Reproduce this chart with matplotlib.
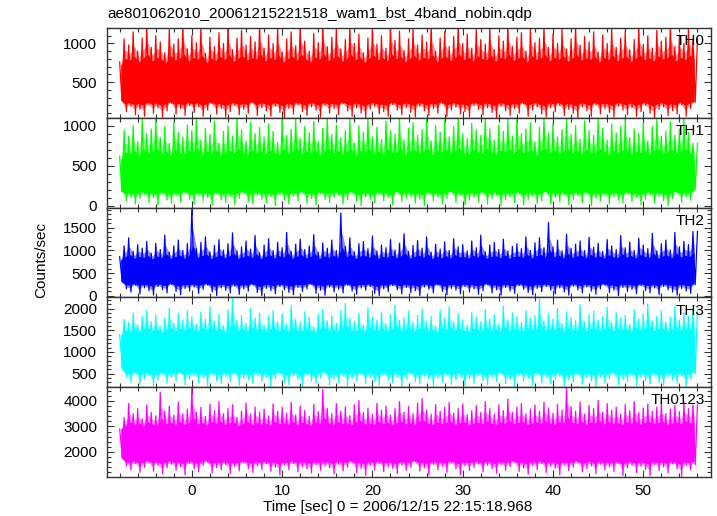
import numpy as np
import matplotlib
matplotlib.use("Agg")
import matplotlib.pyplot as plt
from matplotlib.ticker import MultipleLocator

plt.rcParams['font.family'] = ['Liberation Sans', 'DejaVu Sans']

title = "ae801062010_20061215221518_wam1_bst_4band_nobin.qdp"
xlabel = "Time [sec] 0 = 2006/12/15 22:15:18.968"
ylabel = "Counts/sec"
bands = ["TH0", "TH1", "TH2", "TH3", "TH0123"]
colors = ["#ff0000", "#00ff00", "#0000ff", "#00ffff", "#ff00ff"]

# light curve extremes read per 0.5 s window (upper / lower) starting at t = -8 s
t_start = -8.0
t_step = 0.5

th0_hi = [760, 1060, 980, 1150, 900, 1070, 1230, 950, 1100, 1020, 880, 1180, 990, 1060, 1250, 930,
          1100, 1010, 1210, 870, 1080, 960, 1140, 1000, 1230, 920, 1070, 1170, 980, 1090, 1020, 1250,
          940, 1110, 1000, 1200, 890, 1060, 1150, 970, 1240, 1030, 900, 1130, 1010, 1250, 960, 1080,
          1190, 930, 1050, 1230, 1000, 1120, 880, 1070, 1210, 990, 1100, 940, 1250, 1040, 1160, 910,
          1060, 1200, 980, 1110, 1020, 1240, 900, 1070, 1150, 960, 1090, 1230, 1000, 1120, 940, 1180,
          1050, 990, 1210, 920, 1100, 1030, 1250, 960, 1080, 1140, 900, 1190, 1010, 1070, 1230, 950,
          1120, 1000, 1180, 930, 1060, 1240, 980, 1090, 1020, 1150, 890, 1110, 1000, 1200, 950, 1070,
          1160, 920, 1050, 1220, 990, 1100, 940, 1170, 1030, 1080, 1250, 960, 1110, 1000, 1190, 1060]
th0_lo = [280, 120, 190, 80, 150, 60, 210, 100, 170, 50, 130, 230, 90, 160, 70, 200,
          110, 180, 60, 140, 220, 90, 160, 50, 120, 200, 80, 150, 100, 240, 70, 170,
          130, 60, 190, 110, 40, 160, 90, 210, 120, 70, 180, 140, 50, 200, 100, 160,
          80, 220, 130, 60, 170, 100, 40, 150, 190, 90, 120, 60, 210, 140, 80, 170,
          110, 50, 190, 130, 70, 160, 100, 230, 60, 140, 180, 90, 120, 50, 200, 150,
          80, 170, 110, 40, 190, 130, 70, 160, 100, 220, 60, 140, 180, 90, 50, 170,
          120, 200, 70, 150, 100, 40, 180, 130, 60, 210, 90, 160, 110, 50, 190, 140,
          80, 170, 60, 120, 200, 100, 40, 150, 180, 70, 130, 90, 210, 60, 160, 240]

th1_hi = [620, 940, 870, 1000, 800, 1080, 900, 960, 1100, 850, 990, 780, 1050, 920, 860, 1010,
          940, 1100, 820, 970, 890, 1060, 780, 930, 1000, 870, 1100, 950, 810, 1040, 900, 980,
          860, 1020, 930, 790, 1080, 880, 960, 1100, 840, 990, 910, 1050, 800, 970, 1100, 890,
          1010, 850, 940, 1080, 780, 1000, 920, 1100, 860, 980, 830, 1060, 940, 890, 1100, 820,
          970, 1040, 880, 950, 1100, 810, 1000, 920, 1070, 860, 990, 1100, 900, 840, 1030, 950,
          880, 1100, 960, 820, 1010, 930, 1080, 870, 1100, 900, 960, 1040, 800, 980, 1100, 910,
          1030, 860, 950, 1100, 890, 1000, 830, 1060, 940, 880, 1100, 970, 820, 1020, 910, 990,
          1080, 850, 960, 900, 1040, 810, 990, 1100, 870, 930, 1050, 880, 960, 1080, 920, 780]
th1_lo = [180, 60, 110, 20, 90, 140, 40, 100, 10, 150, 70, 30, 120, 50, 160, 80,
          20, 130, 60, 100, 0, 150, 70, 40, 110, 10, 90, 160, 50, 20, 130, 80,
          40, 110, 0, 140, 70, 20, 120, 60, 170, 30, 90, 10, 150, 80, 40, 100,
          130, 20, 70, 160, 50, 0, 110, 80, 30, 140, 60, 100, 10, 170, 50, 90,
          120, 30, 80, 0, 150, 60, 110, 20, 90, 170, 40, 130, 10, 70, 100, 50,
          160, 20, 90, 130, 0, 70, 110, 40, 150, 10, 80, 120, 30, 60, 170, 20,
          100, 50, 140, 10, 80, 120, 40, 160, 0, 90, 60, 130, 20, 110, 70, 30,
          150, 50, 100, 10, 80, 140, 30, 120, 60, 0, 90, 160, 40, 110, 70, 200]

th2_hi = [860, 1100, 1280, 980, 1130, 1050, 1200, 940, 1160, 1020, 1340, 960, 1100, 1230, 1000, 1150,
          1950, 1040, 1180, 1300, 970, 1110, 1240, 1010, 1150, 1390, 990, 1080, 1210, 1030, 1330, 950,
          1120, 1260, 1000, 1180, 1060, 1400, 980, 1140, 1250, 1020, 1100, 1350, 960, 1170, 1050, 1230,
          1000, 1830, 1090, 1280, 970, 1150, 1200, 1040, 1320, 990, 1120, 1060, 1240, 1010, 1160, 1370,
          980, 1110, 1220, 1050, 1300, 960, 1140, 1030, 1190, 1000, 1260, 1080, 1130, 990, 1210, 1060,
          1340, 970, 1120, 1180, 1020, 1250, 990, 1090, 1150, 1040, 1300, 1000, 1170, 1280, 1060, 1620,
          1080, 1230, 990, 1360, 1050, 1140, 1210, 1000, 1290, 1070, 1160, 980, 1240, 1100, 1020, 1330,
          1060, 1190, 1000, 1270, 1120, 1040, 1380, 990, 1150, 1230, 1010, 1400, 1080, 1200, 1130, 1420]
th2_lo = [380, 150, 80, 230, 40, 170, 110, 10, 200, 130, 60, 250, 90, 20, 160, 100,
          190, 50, 140, 230, 80, 0, 170, 120, 60, 210, 30, 150, 100, 240, 70, 0,
          160, 110, 40, 200, 130, 70, 20, 180, 90, 150, 250, 50, 120, 10, 190, 80,
          140, 60, 230, 100, 30, 170, 120, 200, 50, 0, 150, 90, 220, 130, 40, 180,
          70, 110, 0, 190, 140, 60, 230, 90, 20, 160, 120, 40, 200, 80, 150, 30,
          110, 240, 60, 130, 10, 180, 100, 50, 220, 140, 70, 20, 160, 90, 200, 120,
          40, 170, 80, 10, 210, 130, 60, 190, 100, 30, 150, 230, 70, 120, 0, 180,
          90, 140, 40, 220, 110, 60, 170, 20, 200, 130, 80, 10, 160, 100, 50, 240]

th3_hi = [1400, 1750, 1680, 1900, 1620, 1820, 1960, 1700, 1850, 1580, 1780, 2010, 1660, 1890, 1740, 1950,
          1810, 1640, 1920, 1760, 2050, 1700, 1870, 1600, 1980, 2240, 1720, 1840, 1660, 2000, 1780, 1900,
          1620, 1830, 1950, 1700, 1880, 1640, 2070, 1760, 1690, 1930, 1800, 1580, 1870, 1990, 1720, 1840,
          1660, 1960, 2120, 1780, 1700, 1890, 1620, 2020, 1810, 1740, 1920, 1650, 1860, 2080, 1730, 1800,
          1940, 1680, 1850, 1990, 1710, 1830, 1600, 1960, 1770, 2040, 1690, 1880, 1740, 1620, 1910, 1800,
          1700, 1980, 1760, 1860, 1640, 2060, 1730, 1900, 1810, 1680, 1950, 1780, 1840, 2220, 1700, 1870,
          1760, 2000, 1650, 1920, 1800, 1720, 2090, 1690, 1860, 1940, 1740, 1820, 2030, 1670, 1900, 1780,
          1850, 1640, 1970, 1760, 1880, 2110, 1710, 1830, 1950, 1690, 1800, 2050, 1740, 1910, 1820, 1980]
th3_lo = [800, 420, 300, 510, 250, 380, 460, 220, 350, 490, 280, 410, 330, 530, 240, 370,
          450, 290, 400, 210, 480, 340, 260, 430, 310, 500, 230, 390, 350, 270, 460, 320,
          420, 200, 380, 490, 300, 250, 440, 360, 210, 470, 330, 280, 400, 520, 240, 370,
          300, 450, 220, 390, 340, 480, 260, 410, 310, 230, 460, 350, 280, 420, 200, 380,
          490, 320, 260, 440, 370, 210, 400, 300, 470, 250, 350, 430, 220, 390, 280, 460,
          340, 240, 410, 310, 500, 270, 360, 200, 450, 330, 390, 230, 480, 290, 420, 260,
          370, 440, 210, 350, 300, 470, 250, 400, 330, 200, 430, 280, 380, 490, 240, 360,
          310, 450, 220, 400, 340, 260, 470, 300, 230, 420, 350, 280, 440, 210, 380, 500]

th0123_hi = [2900, 3350, 3900, 3500, 3700, 3300, 3850, 3550, 3420, 4340, 3600, 3800, 3450, 3950, 3500, 3680,
             4530, 3560, 3750, 3400, 3880, 3620, 3980, 3500, 3700, 3850, 3350, 3600, 3920, 3480, 3760, 3560,
             3680, 3420, 3890, 3600, 3750, 3520, 3950, 3450, 3800, 3620, 3400, 3860, 3580, 4450, 3700, 3500,
             3900, 3600, 3760, 3420, 3850, 4020, 3550, 3720, 3480, 3910, 3640, 3800, 3450, 3700, 3980, 3560,
             3780, 3500, 3920, 4100, 3650, 3480, 3860, 3600, 3750, 3950, 3520, 3700, 3880, 3460, 3620, 3820,
             3550, 3980, 3700, 3480, 3850, 3620, 4080, 3560, 3760, 3900, 3500, 3680, 3840, 3600, 3950, 3720,
             3520, 3870, 3640, 4520, 3780, 3600, 3960, 3480, 3820, 3700, 4020, 3560, 3900, 3640, 3760, 3480,
             3860, 3620, 3980, 3540, 3720, 3880, 3600, 3760, 3940, 3500, 3680, 3820, 3580, 3960, 3700, 3850]
th0123_lo = [2000, 1450, 1300, 1550, 1200, 1400, 1600, 1250, 1480, 1150, 1380, 1520, 1280, 1420, 1100, 1560,
             1340, 1220, 1470, 1600, 1180, 1390, 1300, 1500, 1150, 1440, 1260, 1580, 1350, 1200, 1460, 1320,
             1540, 1240, 1400, 1100, 1480, 1300, 1560, 1220, 1420, 1340, 1180, 1500, 1280, 1450, 1380, 1140,
             1520, 1260, 1410, 1600, 1200, 1350, 1080, 1470, 1300, 1550, 1230, 1420, 1360, 1160, 1490, 1280,
             1400, 1620, 1250, 1380, 1100, 1510, 1300, 1440, 1200, 1570, 1340, 1120, 1460, 1280, 1400, 1530,
             1220, 1480, 1350, 1170, 1500, 1290, 1420, 1600, 1240, 1380, 1130, 1470, 1310, 1550, 1200, 1440,
             1360, 1100, 1490, 1260, 1400, 1580, 1220, 1350, 1460, 1150, 1520, 1300, 1420, 1240, 1560, 1080,
             1380, 1480, 1200, 1440, 1320, 1060, 1500, 1280, 1410, 1180, 1540, 1340, 1050, 1460, 1300, 1500]

# typical (dense) range of each band, where the overlapping samples saturate
core_lo = [260, 190, 290, 560, 1700]
core_hi = [700, 560, 760, 1400, 2900]

# axis ranges
ylims = [(40, 1200), (-25, 1100), (-40, 1950), (185, 2260), (1020, 4540)]
ymajor = [500, 500, 500, 500, 1000]
yminor = [100, 100, 100, 100, 200]
xlim = (-9.4, 57.5)

his = [th0_hi, th1_hi, th2_hi, th3_hi, th0123_hi]
los = [th0_lo, th1_lo, th2_lo, th3_lo, th0123_lo]

W, H = 717, 516
fig = plt.figure(figsize=(W / 100, H / 100), dpi=100)
left = 107 / W
width = (711 - 107) / W
top_px, bot_px = 28, 477
ph = (bot_px - top_px) / 5

axes = []
for i in range(5):
    y0 = 1 - (top_px + (i + 1) * ph) / H
    ax = fig.add_axes([left, y0, width, ph / H])
    axes.append(ax)

fs = 11
for i, ax in enumerate(axes):
    hi = np.asarray(his[i], dtype=float)
    lo = np.asarray(los[i], dtype=float)
    n = min(len(hi), len(lo))
    hi, lo = hi[:n], lo[:n]
    tk = t_start + t_step * np.arange(n)
    tt = np.empty(2 * n)
    yy = np.empty(2 * n)
    tt[0::2] = tk
    tt[1::2] = tk + t_step / 2
    yy[0::2] = hi
    yy[1::2] = lo
    t_end = tt[-1] + t_step / 2
    c = colors[i]
    # density shading: where many samples overlap the curve saturates
    tc = tk + t_step / 4
    in_hi = core_hi[i] + 0.3 * (hi - core_hi[i])
    in_lo = core_lo[i] - 0.3 * (core_lo[i] - lo)
    mid_hi = core_hi[i] + 0.6 * (hi - core_hi[i])
    mid_lo = core_lo[i] - 0.6 * (core_lo[i] - lo)
    ax.fill_between(tc, mid_lo, mid_hi, color=c, alpha=0.45, lw=0, zorder=1)
    ax.fill_between(tc, in_lo, in_hi, color=c, lw=0, zorder=1.5)
    ax.plot(np.append(tt, t_end), np.append(yy, hi[-1]), color=c,
            lw=0.9, zorder=2)
    ax.set_xlim(*xlim)
    ax.set_ylim(*ylims[i])
    ax.xaxis.set_major_locator(MultipleLocator(10))
    ax.xaxis.set_minor_locator(MultipleLocator(2))
    ax.yaxis.set_major_locator(MultipleLocator(ymajor[i]))
    ax.yaxis.set_minor_locator(MultipleLocator(yminor[i]))
    ax.tick_params(which='both', direction='in', top=True, right=True,
                   color='#333333', width=0.8, labelsize=fs, pad=7)
    ax.tick_params(which='major', length=5)
    ax.tick_params(which='minor', length=2.8)
    for s in ax.spines.values():
        s.set_linewidth(1.0)
        s.set_color('#333333')
    if i < 4:
        ax.tick_params(labelbottom=False)
    else:
        ax.tick_params(axis='x', pad=5)
    ax.text(0.99, 0.93, bands[i], transform=ax.transAxes, ha='right', va='top',
            fontsize=fs, zorder=5)

fig.text(left, 1 - 14 / H, title, ha='left', va='center', fontsize=fs)
fig.text(398 / W, 1 - 507 / H, xlabel, ha='center', va='center', fontsize=fs)
fig.text(41 / W, 1 - 260 / H, ylabel, ha='center', va='center', rotation=90, fontsize=fs)

fig.savefig("out.png", dpi=100)
